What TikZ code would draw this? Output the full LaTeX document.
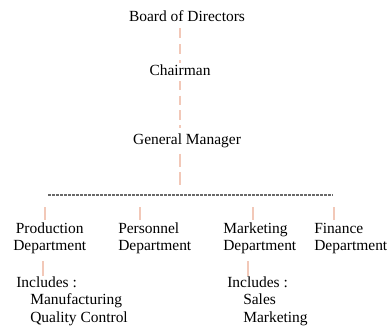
\documentclass[tikz,border=0pt]{standalone}
\usepackage{fontspec}
\setmainfont{Liberation Serif}
\definecolor{peach}{RGB}{242,200,184}
\definecolor{hgray}{RGB}{105,105,105}
\begin{document}
\begin{tikzpicture}[x=0.75pt,y=-0.75pt,
  txt/.style={inner sep=0pt,font=\fontsize{11.6}{12.8}\selectfont},
  dept/.style={txt,anchor=west,align=left},
  vline/.style={draw=peach,line width=1.1pt,dash pattern=on 7pt off 5pt},
  tick/.style={draw=peach,line width=1.1pt},
  hline/.style={draw=hgray,line width=0.8pt,dash pattern=on 2.2pt off 0.8pt}]
\useasboundingbox (0,0) rectangle (388,328);
\node[txt] (board) at (187,16) {Board of Directors};
\node[txt] (chair) at (180,70) {Chairman};
\node[txt] (gm) at (187,141) {General Manager};
\coordinate (hl) at (48,195);
\coordinate (hr) at (333,195);
\node[dept,align=center] (prod) at (13,238.5) {Production\\Department};
\node[dept] (pers) at (118,238.5) {Personnel\\Department};
\node[dept] (mark) at (223,238.5) {Marketing\\Department};
\node[dept] (fin) at (314,238.5) {Finance\\Department};
\node[txt,anchor=north west,align=left,font=\fontsize{11.6}{13.2}\selectfont] (pinc) at (16,276)
  {Includes :\\\hspace*{10.5pt}Manufacturing\\\hspace*{10.5pt}Quality Control};
\node[txt,anchor=north west,align=left,font=\fontsize{11.6}{13.2}\selectfont] (minc) at (227,276)
  {Includes :\\\hspace*{12pt}Sales\\\hspace*{12pt}Marketing};
% connectors
\draw[vline] ([yshift=-5pt]board.south -| chair.center) -- ([yshift=1pt]chair.north);
\draw[vline,dash pattern=on 7pt off 4pt] ([yshift=-4pt]chair.south) -- ([yshift=4pt]gm.north -| chair.center);
\draw[vline,dash pattern=on 10pt off 4pt] ([yshift=-4pt]gm.south -| chair.center) -- ([yshift=7.5pt]chair.center |- hl);
\draw[hline] (hl) -- (hr);
\coordinate (t1) at (45,207); \coordinate (t2) at (140,207);
\coordinate (t3) at (253,207); \coordinate (t4) at (334,207);
\foreach \t in {t1,t2,t3,t4} \draw[tick] (\t) -- ++(0,13);
\coordinate (u1) at (43,261); \coordinate (u2) at (248,261);
\draw[tick] (u1) -- (u1 |- pinc.north);
\draw[tick] (u2) -- (u2 |- minc.north);
\end{tikzpicture}
\end{document}
